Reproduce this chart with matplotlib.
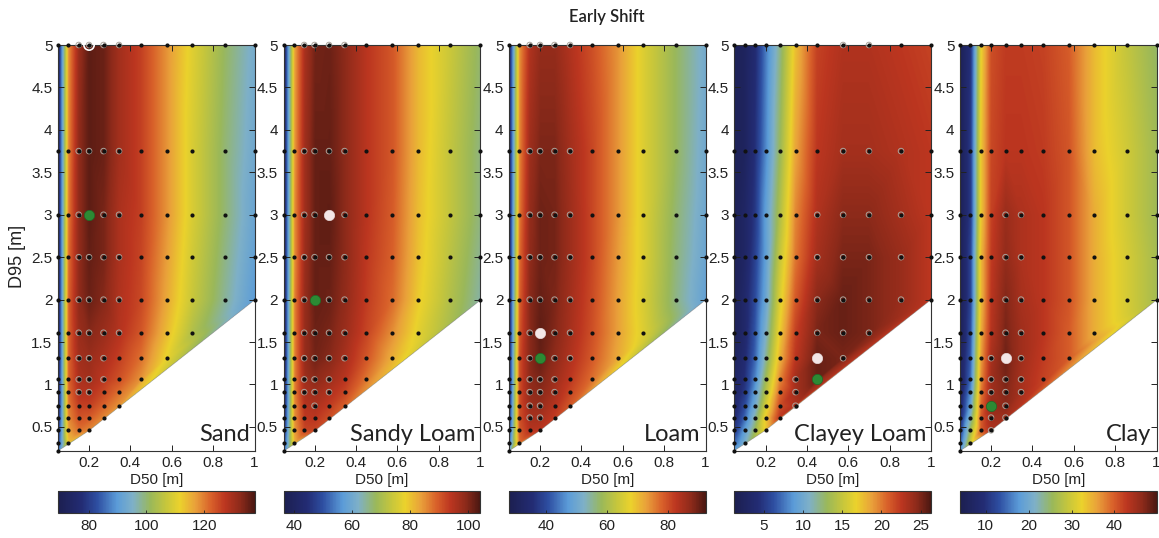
import numpy as np
import matplotlib
matplotlib.use("Agg")
import matplotlib.pyplot as plt
import matplotlib.tri as mtri
from matplotlib.colors import LinearSegmentedColormap

# Grid of simulated combinations (D50 columns, D95 rows, bottom to top)
d50 = [0.05, 0.10, 0.15, 0.20, 0.27, 0.345, 0.45, 0.575, 0.70, 0.855, 1.00]
d95 = [0.22, 0.31, 0.46, 0.61, 0.75, 0.91, 1.06, 1.31, 1.61, 2.00, 2.50, 3.00, 3.75, 5.00]

soil_names = ["Sand", "Sandy Loam", "Loam", "Clayey Loam", "Clay"]

sand = [
    [85],
    [80, 113],
    [78, 117, 121, 119],
    [76, 119, 124, 123, 119],
    [75, 120, 126, 126, 122, 118],
    [74, 121, 128, 128, 125, 121],
    [74, 122, 129, 130, 127, 124, 118],
    [73, 122, 130, 131, 129, 126, 121, 111],
    [73, 122, 131, 133, 131, 128, 123.5, 114, 104],
    [73, 122, 132, 135, 133, 128.5, 125, 116, 107, 98, 90],
    [73, 121, 132, 135.5, 134, 129, 125.5, 117, 108, 99, 91],
    [73, 120, 132, 136, 134, 129, 126, 118, 109, 100, 92],
    [73, 119, 132, 136, 135, 130, 126, 118, 109, 100, 93],
    [73, 118, 131, 136, 135, 130, 126, 118, 110, 101, 94],
]

sandy_loam = [
    [52],
    [48, 82],
    [45, 84, 92, 92],
    [43, 85, 93.5, 94, 91],
    [42, 85, 94.5, 95.5, 93, 89],
    [41, 86, 96, 97, 95, 92],
    [41, 86, 97, 99, 97, 94, 87],
    [40, 86, 98, 101, 99.5, 96, 90, 82],
    [40, 86, 98, 101.5, 100.5, 97.5, 92, 85, 77],
    [40, 86, 98, 102, 101.5, 98.5, 93, 88, 79, 71, 64],
    [40, 85, 97.5, 102, 102, 99, 93.5, 89, 80, 72, 65],
    [40, 85, 97, 102, 102.5, 99, 94, 89.5, 80.5, 73, 66],
    [40, 84, 97, 102, 102, 99, 94, 90, 81, 73, 66],
    [40, 83, 96, 101, 101.5, 99, 94, 90, 81, 74, 67],
]

loam = [
    [50],
    [42, 77],
    [38, 79, 83.5, 83],
    [36, 80, 85, 85, 82],
    [35, 80, 86, 86.5, 83.5, 79],
    [34, 80, 87, 88, 85, 81],
    [33, 80, 87.5, 89, 86, 82.5, 77],
    [33, 80, 88, 90.5, 87.5, 84, 79, 72],
    [32, 79, 88, 91, 88.5, 85, 80, 73, 66],
    [32, 78, 88, 90.5, 89, 85.5, 80.5, 73, 65.5, 56, 48.5],
    [32, 77, 87.5, 90, 89.5, 86, 81, 73.5, 66, 56.5, 49.5],
    [32, 76, 87, 90, 89.5, 86, 81, 74, 66, 57, 50],
    [32, 75, 86, 89, 89, 85.5, 81, 74, 66, 58, 50.5],
    [32, 74, 84, 87, 87, 84, 80, 74, 66, 58, 51],
]

clayey_loam = [
    [9],
    [7, 10.5],
    [5, 9, 13, 17],
    [4, 7, 11.5, 17, 22.5],
    [3.5, 6, 10, 15.5, 21.5, 23],
    [3, 5, 9, 14, 20.5, 23.5],
    [3, 4.5, 8, 13, 19.5, 23.5, 25.5],
    [2.5, 4, 7, 11.5, 18, 22.5, 25.5, 25],
    [2, 3.5, 6.5, 10.5, 17, 22, 25, 25.5, 25],
    [2, 3.5, 6, 9.5, 16, 21, 24.5, 25.5, 25, 24, 22.5],
    [2, 3, 5.5, 9, 15, 20, 23.5, 25, 25, 24, 22.5],
    [2, 3, 5, 9, 14, 19.5, 23, 24.5, 24.5, 23.5, 22.5],
    [2, 2.5, 4.5, 8, 13, 18.5, 22.5, 23.5, 23.5, 23, 22.5],
    [2, 2.5, 4, 7.5, 12, 17.5, 22, 23, 23, 22.5, 22],
]

clay = [
    [17],
    [14, 30],
    [11, 26, 40, 44],
    [9, 22, 40, 45, 45],
    [8, 19, 39, 46, 46.5],
    [7, 17, 38, 45, 47, 44.5],
    [6, 15, 37, 45, 47.5, 44.5, 42],
    [6, 14, 36, 44.5, 48, 45, 42.5, 40],
    [5, 13, 35, 43.5, 47.5, 45, 43, 40, 35],
    [5, 12, 34, 43, 47, 44.5, 43, 40.5, 35, 30.5, 26.5],
    [5, 12, 34, 42.5, 46, 44, 43, 40.5, 35, 30.5, 26.5],
    [5, 11, 33, 42, 45.5, 44, 43, 40.5, 35, 30, 26],
    [5, 11, 33, 41.5, 43, 43, 42.5, 40.5, 34, 30, 26],
    [5, 10, 32, 41, 42.5, 42.5, 42, 40, 34, 29, 25],
]

panel_values = [sand, sandy_loam, loam, clayey_loam, clay]
color_limits = [(69.4, 137.4), (36.4, 104.0), (27.8, 92.5), (1.3, 26.3), (4.0, 49.8)]
colorbar_ticks = [[80, 100, 120], [40, 60, 80, 100], [40, 60, 80], [5, 10, 15, 20, 25], [10, 20, 30, 40]]
ring_levels = [127, 95, 84, 23, 44]

# highlighted combinations (D50, D95)
white_points = [(0.20, 5.00), (0.27, 3.00), (0.20, 1.61), (0.45, 1.31), (0.27, 1.31)]
green_points = [(0.20, 3.00), (0.20, 2.00), (0.20, 1.31), (0.45, 1.06), (0.20, 0.75)]

cmap = LinearSegmentedColormap.from_list("muted_jet", [
    (0.00, "#1c1f50"), (0.12, "#232c74"), (0.20, "#2e4fa2"), (0.30, "#5b9cd8"),
    (0.38, "#7eb0c8"), (0.47, "#9ab85a"), (0.55, "#c6c63c"), (0.62, "#ebd22c"),
    (0.70, "#e9a03a"), (0.78, "#d8602a"), (0.85, "#bc3620"), (0.93, "#8c2a1a"),
    (1.00, "#4c1812")])

W, H = 1159, 538
fig = plt.figure(figsize=(W / 100, H / 100), dpi=100)
tick_font = "Liberation Sans"

# fine raster for the interpolated surface
gx_fine = np.linspace(d50[0], d50[-1], 600)
gy_fine = np.linspace(d95[0], d95[-1], 1200)
GX, GY = np.meshgrid(gx_fine, gy_fine)

for k, name in enumerate(soil_names):
    rows = panel_values[k]
    vmin, vmax = color_limits[k]
    left = 58 + k * 225.5
    ax = fig.add_axes([left / W, 1 - 450.7 / H, 196.5 / W, 405.7 / H])

    xs, ys, zs = [], [], []
    for yv, row in zip(d95, rows):
        for xv, zv in zip(d50, row):
            xs.append(xv)
            ys.append(yv)
            zs.append(zv)
    x = np.array(xs)
    y = np.array(ys)
    z = np.array(zs, dtype=float)

    base = mtri.Triangulation(x, y * 0.41)
    tri = mtri.Triangulation(x, y, base.triangles)
    field = mtri.LinearTriInterpolator(tri, z)(GX, GY)
    mesh = ax.imshow(field, origin="lower", aspect="auto", cmap=cmap,
                     vmin=vmin, vmax=vmax, interpolation="bilinear",
                     extent=(d50[0], d50[-1], d95[0], d95[-1]))

    ring = z >= ring_levels[k]
    ax.scatter(x[ring], y[ring], s=16, facecolors="none", edgecolors="#a9a49c",
               linewidths=0.7, zorder=3, clip_on=False)
    ax.scatter(x, y, s=9, c="#111111", linewidths=0, zorder=4, clip_on=False)

    wx, wy = white_points[k]
    if k == 0:
        ax.scatter([wx], [wy], s=55, facecolors="none", edgecolors="white",
                   linewidths=1.2, zorder=5, clip_on=False)
    else:
        ax.scatter([wx], [wy], s=55, c="#f3e6e6", edgecolors="#e8d8d8",
                   linewidths=0.5, zorder=5, clip_on=False)
    gx, gy = green_points[k]
    ax.scatter([gx], [gy], s=55, c="#2c8a34", edgecolors="#1f6a26",
               linewidths=0.5, zorder=5, clip_on=False)

    ax.set_xlim(0.05, 1.0)
    ax.set_ylim(0.22, 5.0)
    ax.set_xticks([0.2, 0.4, 0.6, 0.8, 1.0])
    ax.set_xticklabels(["0.2", "0.4", "0.6", "0.8", "1"])
    ax.set_yticks([0.5, 1, 1.5, 2, 2.5, 3, 3.5, 4, 4.5, 5])
    ax.set_yticklabels(["0.5", "1", "1.5", "2", "2.5", "3", "3.5", "4", "4.5", "5"])
    ax.tick_params(direction="in", length=4, width=0.7, top=True, right=True,
                   labelsize=11, pad=4, colors="#222222")
    for lab in ax.get_xticklabels() + ax.get_yticklabels():
        lab.set_fontfamily(tick_font)
    for sp in ax.spines.values():
        sp.set_linewidth(0.8)
        sp.set_color("#333333")
    ax.set_xlabel("D50 [m]", fontsize=11, family=tick_font, labelpad=2, color="#222222")
    if k == 0:
        ax.set_ylabel("D95 [m]", fontsize=13, family=tick_font, color="#222222")
        ax.yaxis.set_label_coords(-0.165, 0.48)
    ax.text(0.975, 0.015, name, transform=ax.transAxes, ha="right", va="bottom",
            fontsize=17, family="Lato", color="#222222", zorder=6)

    cax = fig.add_axes([left / W, 1 - 513 / H, 196.5 / W, 22 / H])
    cb = fig.colorbar(mesh, cax=cax, orientation="horizontal", ticks=colorbar_ticks[k])
    cb.outline.set_linewidth(0.8)
    cb.outline.set_edgecolor("#333333")
    cax.tick_params(direction="in", length=2, width=0.6, labelsize=11, pad=4,
                    colors="#222222")
    for lab in cax.get_xticklabels():
        lab.set_fontfamily(tick_font)

    if k == 2:
        fig.text((left + 196.5 / 2) / W, 1 - 17 / H, "Early Shift", ha="center",
                 va="center", fontsize=12, family="Lato", fontweight="semibold",
                 color="#222222")

fig.savefig("out.png", dpi=100)
